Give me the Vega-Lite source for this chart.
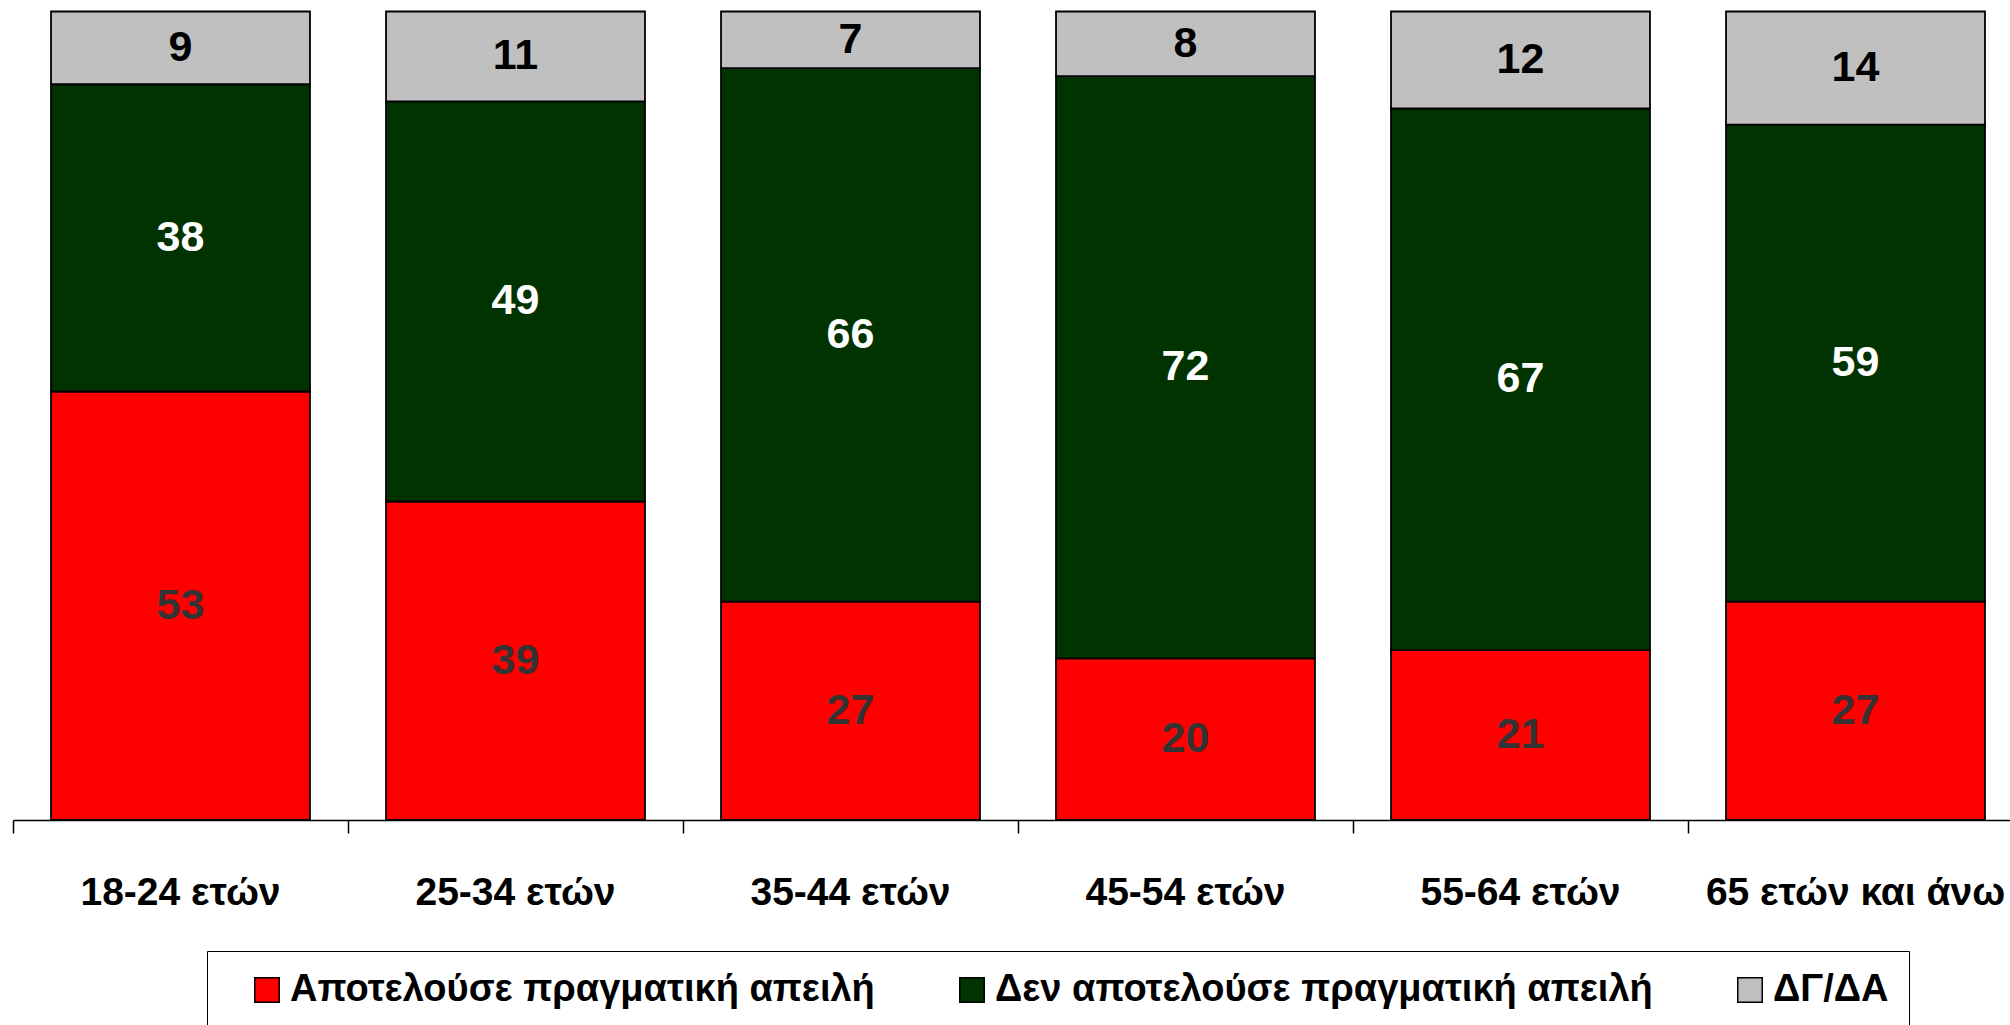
{
  "$schema": "https://vega.github.io/schema/vega-lite/v6.json",
  "autosize": "none",
  "width": 1997,
  "height": 808.5,
  "padding": {"left": 13, "top": 11.5, "right": 0, "bottom": 205},
  "background": "white",
  "config": {"view": {"stroke": null}},
  "data": {"values": [
    {"age": "18-24 ετών", "cat": "Αποτελούσε πραγματική απειλή", "k": 1, "v": 53},
    {"age": "18-24 ετών", "cat": "Δεν αποτελούσε πραγματική απειλή", "k": 2, "v": 38},
    {"age": "18-24 ετών", "cat": "ΔΓ/ΔΑ", "k": 3, "v": 9},
    {"age": "25-34 ετών", "cat": "Αποτελούσε πραγματική απειλή", "k": 1, "v": 39},
    {"age": "25-34 ετών", "cat": "Δεν αποτελούσε πραγματική απειλή", "k": 2, "v": 49},
    {"age": "25-34 ετών", "cat": "ΔΓ/ΔΑ", "k": 3, "v": 11},
    {"age": "35-44 ετών", "cat": "Αποτελούσε πραγματική απειλή", "k": 1, "v": 27},
    {"age": "35-44 ετών", "cat": "Δεν αποτελούσε πραγματική απειλή", "k": 2, "v": 66},
    {"age": "35-44 ετών", "cat": "ΔΓ/ΔΑ", "k": 3, "v": 7},
    {"age": "45-54 ετών", "cat": "Αποτελούσε πραγματική απειλή", "k": 1, "v": 20},
    {"age": "45-54 ετών", "cat": "Δεν αποτελούσε πραγματική απειλή", "k": 2, "v": 72},
    {"age": "45-54 ετών", "cat": "ΔΓ/ΔΑ", "k": 3, "v": 8},
    {"age": "55-64 ετών", "cat": "Αποτελούσε πραγματική απειλή", "k": 1, "v": 21},
    {"age": "55-64 ετών", "cat": "Δεν αποτελούσε πραγματική απειλή", "k": 2, "v": 67},
    {"age": "55-64 ετών", "cat": "ΔΓ/ΔΑ", "k": 3, "v": 12},
    {"age": "65 ετών και άνω", "cat": "Αποτελούσε πραγματική απειλή", "k": 1, "v": 27},
    {"age": "65 ετών και άνω", "cat": "Δεν αποτελούσε πραγματική απειλή", "k": 2, "v": 59},
    {"age": "65 ετών και άνω", "cat": "ΔΓ/ΔΑ", "k": 3, "v": 14}
  ]},
  "encoding": {
    "x": {
      "field": "age", "type": "nominal", "sort": null,
      "scale": {"range": [0, 2010], "paddingInner": 0.227, "paddingOuter": 0.1135},
      "axis": {
        "title": null, "labelAngle": 0, "domainColor": "black", "domainWidth": 1.5,
        "tickColor": "black", "tickWidth": 1.5, "tickSize": 13,
        "bandPosition": -0.1468, "labelPadding": 40,
        "labelFont": "Liberation Sans, Arial, sans-serif",
        "labelFontSize": 39, "labelFontWeight": "bold", "labelColor": "black",
        "labelLimit": 0, "labelOverlap": false
      }
    },
    "y": {"field": "v", "type": "quantitative", "stack": "normalize", "axis": null},
    "order": {"field": "k", "type": "quantitative"}
  },
  "layer": [
    {
      "mark": {"type": "bar", "stroke": "black", "strokeWidth": 1.8},
      "encoding": {
        "color": {
          "field": "cat", "type": "nominal",
          "sort": ["Αποτελούσε πραγματική απειλή", "Δεν αποτελούσε πραγματική απειλή", "ΔΓ/ΔΑ"],
          "scale": {
            "domain": ["Αποτελούσε πραγματική απειλή", "Δεν αποτελούσε πραγματική απειλή", "ΔΓ/ΔΑ"],
            "range": ["#FF0000", "#003300", "#C0C0C0"]
          },
          "legend": {
            "orient": "none", "legendX": 194, "legendY": 939.5, "direction": "horizontal",
            "title": " ", "titleOrient": "left", "titleFontSize": 8, "titlePadding": 21,
            "padding": 20, "strokeColor": "black", "fillColor": "white",
            "columnPadding": 78, "symbolType": "square", "symbolSize": 600,
            "symbolStrokeColor": "black", "symbolStrokeWidth": 1.5, "symbolOpacity": 1,
            "labelOffset": 4,
            "labelFont": "Liberation Sans, Arial, sans-serif",
            "labelFontSize": 38, "labelFontWeight": "bold", "labelColor": "black", "labelLimit": 0
          }
        }
      }
    },
    {
      "mark": {"type": "text", "font": "Liberation Sans, Arial, sans-serif", "fontSize": 43, "fontWeight": "bold", "baseline": "middle"},
      "encoding": {
        "y": {"field": "v", "type": "quantitative", "stack": "normalize", "bandPosition": 0.5, "axis": null},
        "text": {"field": "v", "type": "quantitative"},
        "color": {
          "field": "cat", "type": "nominal",
          "sort": ["Αποτελούσε πραγματική απειλή", "Δεν αποτελούσε πραγματική απειλή", "ΔΓ/ΔΑ"],
          "scale": {
            "domain": ["Αποτελούσε πραγματική απειλή", "Δεν αποτελούσε πραγματική απειλή", "ΔΓ/ΔΑ"],
            "range": ["#333333", "#FFFFFF", "#000000"]
          },
          "legend": null
        }
      }
    }
  ],
  "resolve": {"scale": {"color": "independent"}, "legend": {"color": "independent"}}
}
